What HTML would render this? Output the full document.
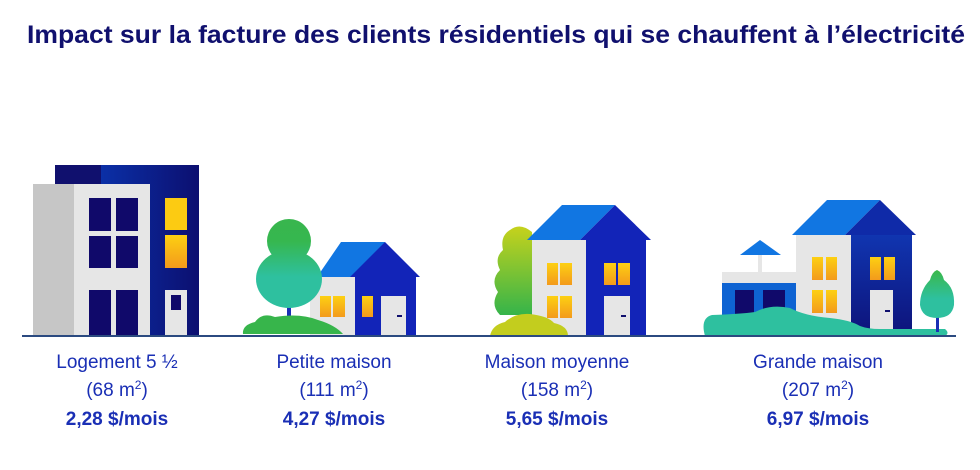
<!DOCTYPE html>
<html><head><meta charset="utf-8"><style>
html,body{margin:0;padding:0;background:#fff;width:980px;height:470px;overflow:hidden}
svg{display:block}
</style></head><body>
<svg width="980" height="470" viewBox="0 0 980 470" xmlns="http://www.w3.org/2000/svg">
<defs>
<linearGradient id="bl" x1="0" x2="1" y1="0" y2="0"><stop offset="0" stop-color="#0a3fc0"/><stop offset="1" stop-color="#0c0f70"/></linearGradient>
<linearGradient id="yw" x1="0" x2="0" y1="0" y2="1"><stop offset="0" stop-color="#fdd012"/><stop offset="1" stop-color="#f39a1c"/></linearGradient>
<linearGradient id="tg" x1="0" x2="0" y1="0" y2="1"><stop offset="0" stop-color="#3bb84a"/><stop offset="0.6" stop-color="#2ec09f"/></linearGradient>
<linearGradient id="ty" x1="0" x2="0" y1="0" y2="1"><stop offset="0" stop-color="#c6d21c"/><stop offset="1" stop-color="#35b44a"/></linearGradient>
<linearGradient id="bd" x1="0" x2="0" y1="0" y2="1"><stop offset="0" stop-color="#1035b0"/><stop offset="1" stop-color="#0d137a"/></linearGradient>
<linearGradient id="tr" gradientUnits="userSpaceOnUse" x1="0" y1="219" x2="0" y2="308"><stop offset="0" stop-color="#38b64e"/><stop offset="0.25" stop-color="#36b74f"/><stop offset="0.65" stop-color="#2ec09f"/><stop offset="1" stop-color="#2ec09f"/></linearGradient>
</defs>
<text x="27" y="43" font-family="Liberation Sans, sans-serif" font-weight="bold" font-size="25" fill="#10106e" textLength="938" lengthAdjust="spacingAndGlyphs">Impact sur la facture des clients résidentiels qui se chauffent à l’électricité</text>

<!-- Building 1 -->
<rect x="55" y="165" width="144" height="171" fill="url(#bl)"/>
<rect x="55" y="165" width="46" height="19" fill="#10106e"/>
<rect x="33" y="184" width="41" height="152" fill="#c6c6c6"/>
<rect x="74" y="184" width="76" height="152" fill="#e6e6e6"/>
<g fill="#10096a">
<rect x="89" y="198" width="22" height="33"/><rect x="116" y="198" width="22" height="33"/>
<rect x="89" y="236" width="22" height="32"/><rect x="116" y="236" width="22" height="32"/>
<rect x="89" y="290" width="22" height="46"/><rect x="116" y="290" width="22" height="46"/>
</g>
<rect x="165" y="198" width="22" height="32" fill="#fccb12"/>
<rect x="165" y="235" width="22" height="33" fill="url(#yw)"/>
<rect x="165" y="290" width="22" height="46" fill="#e6e6e6"/>
<rect x="171" y="295" width="10" height="15" fill="#10096a"/>

<!-- Small house -->
<polygon points="317,277 341,242 385,242 360,277" fill="#1176e2"/>
<rect x="310" y="277" width="45" height="59" fill="#e6e6e6"/>
<rect x="355" y="277" width="61" height="59" fill="#1224b8"/>
<polygon points="350,277 385,242 420,277" fill="#1224b8"/>
<rect x="320" y="296" width="11" height="21" fill="url(#yw)"/><rect x="333" y="296" width="12" height="21" fill="url(#yw)"/>
<rect x="362" y="296" width="11" height="21" fill="url(#yw)"/>
<rect x="381" y="296" width="25" height="40" fill="#e6e6e6"/>
<rect x="397" y="315" width="5" height="2" fill="#10106e"/>
<rect x="287" y="295" width="4" height="30" fill="#1a2fb5"/>
<g fill="url(#tr)">
<circle cx="289" cy="241" r="22"/>
<ellipse cx="289" cy="279" rx="33" ry="29"/>
<rect x="272" y="245" width="34" height="20"/>
</g>
<path d="M243,334 Q242,325 255,322 Q262,312 275,317 Q300,313 318,320 Q335,325 343,334Z" fill="#37b54b"/>

<!-- Medium house -->
<rect x="522" y="280" width="4" height="40" fill="#1a2fb5"/>
<path d="M510,230 Q520,222 532,232 L535,315 L500,315 Q490,305 498,292 Q490,280 500,270 Q494,258 503,250 Q500,236 510,230Z" fill="url(#ty)"/>
<polygon points="527,240 562,205 615,205 580,240" fill="#1176e2"/>
<rect x="532" y="240" width="54" height="96" fill="#e6e6e6"/>
<rect x="586" y="240" width="60" height="96" fill="#1224b8"/>
<polygon points="580,240 615,205 651,240" fill="#1224b8"/>
<rect x="547" y="263" width="11" height="22" fill="url(#yw)"/><rect x="560" y="263" width="12" height="22" fill="url(#yw)"/>
<rect x="547" y="296" width="11" height="22" fill="url(#yw)"/><rect x="560" y="296" width="12" height="22" fill="url(#yw)"/>
<rect x="604" y="263" width="12" height="22" fill="url(#yw)"/><rect x="618" y="263" width="12" height="22" fill="url(#yw)"/>
<rect x="604" y="296" width="26" height="40" fill="#e6e6e6"/>
<rect x="621" y="315" width="5" height="2" fill="#10106e"/>
<path d="M490,336 Q492,325 505,322 Q515,313 530,314 Q548,316 554,323 Q568,326 568,336Z" fill="#c3cd1e"/>

<!-- Large house -->
<polygon points="740,255 760,240 781,255" fill="#1176e2"/>
<rect x="758" y="255" width="4" height="17" fill="#e6e6e6"/>
<rect x="722" y="272" width="74" height="11" fill="#e6e6e6"/>
<rect x="722" y="283" width="74" height="53" fill="#0e63d2"/>
<rect x="735" y="290" width="19" height="46" fill="#10096a"/><rect x="763" y="290" width="22" height="46" fill="#10096a"/>
<polygon points="792,235 827,200 880,200 845,235" fill="#1176e2"/>
<rect x="796" y="235" width="55" height="101" fill="#e6e6e6"/>
<rect x="851" y="235" width="61" height="101" fill="url(#bd)"/>
<polygon points="845,235 880,200 916,235" fill="#0f2aa8"/>
<rect x="812" y="257" width="11" height="23" fill="url(#yw)"/><rect x="826" y="257" width="11" height="23" fill="url(#yw)"/>
<rect x="812" y="290" width="11" height="23" fill="url(#yw)"/><rect x="826" y="290" width="11" height="23" fill="url(#yw)"/>
<rect x="870" y="257" width="11" height="23" fill="url(#yw)"/><rect x="884" y="257" width="11" height="23" fill="url(#yw)"/>
<rect x="870" y="290" width="23" height="46" fill="#e6e6e6"/>
<rect x="885" y="310" width="5" height="2" fill="#10106e"/>
<path d="M705,336 Q700,318 712,315 Q740,314 755,312 Q770,304 790,308 Q805,316 830,318 Q850,320 860,326 Q868,329 880,329 L945,329 Q950,333 945,336Z" fill="#2ec09f"/>
<rect x="936" y="300" width="3" height="32" fill="#1a2fb5"/>
<path d="M937,270 Q942,272 944,280 Q955,288 954,305 Q952,318 937,318 Q922,318 920,305 Q920,290 930,280 Q932,272 937,270Z" fill="url(#tg)"/>

<rect x="22" y="335" width="934" height="2" fill="#2b4a80"/>

<g font-family="Liberation Sans, sans-serif" font-size="19" fill="#1a2fb5" text-anchor="middle">
<text x="117" y="368">Logement 5 ½</text>
<text x="117" y="396">(68 m<tspan font-size="12" dy="-7">2</tspan><tspan dy="7">)</tspan></text>
<text x="117" y="425" font-weight="bold">2,28 $/mois</text>
<text x="334" y="368">Petite maison</text>
<text x="334" y="396">(111 m<tspan font-size="12" dy="-7">2</tspan><tspan dy="7">)</tspan></text>
<text x="334" y="425" font-weight="bold">4,27 $/mois</text>
<text x="557" y="368">Maison moyenne</text>
<text x="557" y="396">(158 m<tspan font-size="12" dy="-7">2</tspan><tspan dy="7">)</tspan></text>
<text x="557" y="425" font-weight="bold">5,65 $/mois</text>
<text x="818" y="368">Grande maison</text>
<text x="818" y="396">(207 m<tspan font-size="12" dy="-7">2</tspan><tspan dy="7">)</tspan></text>
<text x="818" y="425" font-weight="bold">6,97 $/mois</text>
</g>
</svg>
</body></html>
